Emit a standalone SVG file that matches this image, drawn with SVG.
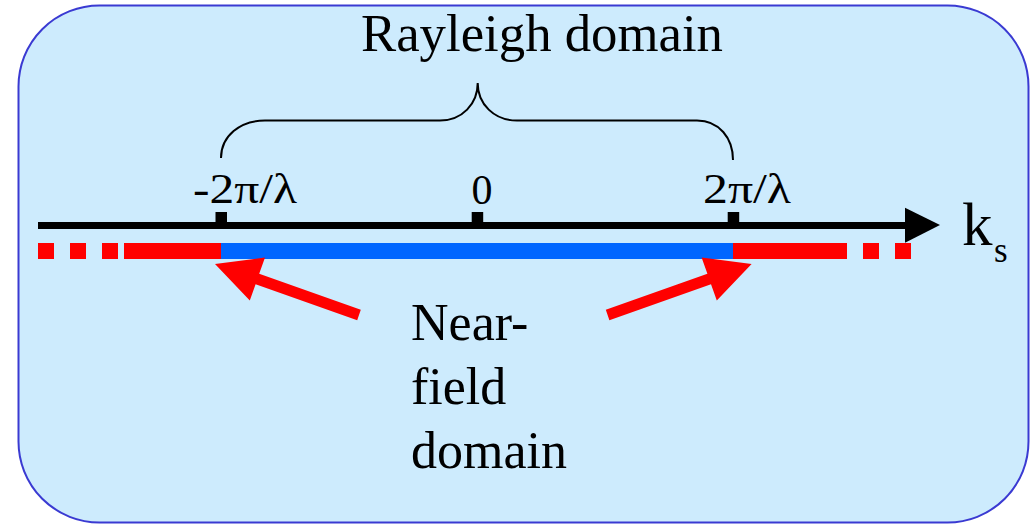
<svg xmlns="http://www.w3.org/2000/svg" width="1030" height="525" viewBox="0 0 1030 525">
  <style>
    .t { font-family: "Liberation Serif", "Times New Roman", serif; fill: #000; }
    .big { font-size: 52px; }
    .lab { font-size: 42px; }
    .red { fill: #ff0000; }
    .blue { fill: #0066ff; }
  </style>
  <g id="panel">
    <rect x="18.5" y="5.5" width="1010" height="517" rx="81" ry="81" fill="#cdebfd" stroke="#3a3ad2" stroke-width="2"/>
  </g>
  <g id="title">
    <text class="t big" x="361" y="51" textLength="362" lengthAdjust="spacingAndGlyphs">Rayleigh domain</text>
  </g>
  <g id="brace">
    <path d="M221,158 C221,136 240,120.5 265,120.5 L440,120.5 C462,120.5 477.7,104 477.7,83 C477.7,104 494,120.5 517,120.5 L697,120.5 C719,120.5 733,138 733,160" fill="none" stroke="#000" stroke-width="2"/>
  </g>
  <g id="axis">
    <rect x="38" y="222" width="872" height="7" fill="#000"/>
    <polygon points="905,207.7 940,225 905,242.7" fill="#000"/>
    <rect x="215.5" y="212" width="11.5" height="11" fill="#000"/>
    <rect x="471.7" y="212" width="11.5" height="11" fill="#000"/>
    <rect x="727.7" y="212" width="11.5" height="11" fill="#000"/>
  </g>
  <g id="tick-labels">
    <text class="t lab" x="193" y="203" textLength="104" lengthAdjust="spacingAndGlyphs">-2π/λ</text>
    <text class="t lab" x="482" y="204" text-anchor="middle">0</text>
    <text class="t lab" x="703" y="203" textLength="88" lengthAdjust="spacingAndGlyphs">2π/λ</text>
  </g>
  <g id="axis-label">
    <text class="t" x="962" y="245" font-size="61">k</text>
    <text class="t" x="994" y="262" font-size="35">s</text>
  </g>
  <g id="spectrum-bar">
    <rect class="red" x="38" y="243" width="16" height="16"/>
    <rect class="red" x="70" y="243" width="16" height="16"/>
    <rect class="red" x="102" y="243" width="16" height="16"/>
    <rect class="red" x="124" y="243" width="97" height="16"/>
    <rect class="blue" x="221" y="243" width="512" height="16"/>
    <rect class="red" x="733" y="243" width="114" height="16"/>
    <rect class="red" x="863" y="243" width="16" height="16"/>
    <rect class="red" x="895" y="243" width="16" height="16"/>
  </g>
  <g id="nearfield-label">
    <text class="t big" x="411" y="340">Near-</text>
    <text class="t big" x="411" y="404">field</text>
    <text class="t big" x="411" y="468">domain</text>
  </g>
  <g id="connectors">
    <polygon class="red" points="215,264 265,257.5 259.2,273.8 360.8,309.8 357.2,320.2 255.6,284.2 249.8,300.5"/>
    <polygon class="red" points="751.6,264 701.6,257.5 707.4,273.8 605.8,309.8 609.4,320.2 711,284.2 716.8,300.5"/>
  </g>
</svg>
